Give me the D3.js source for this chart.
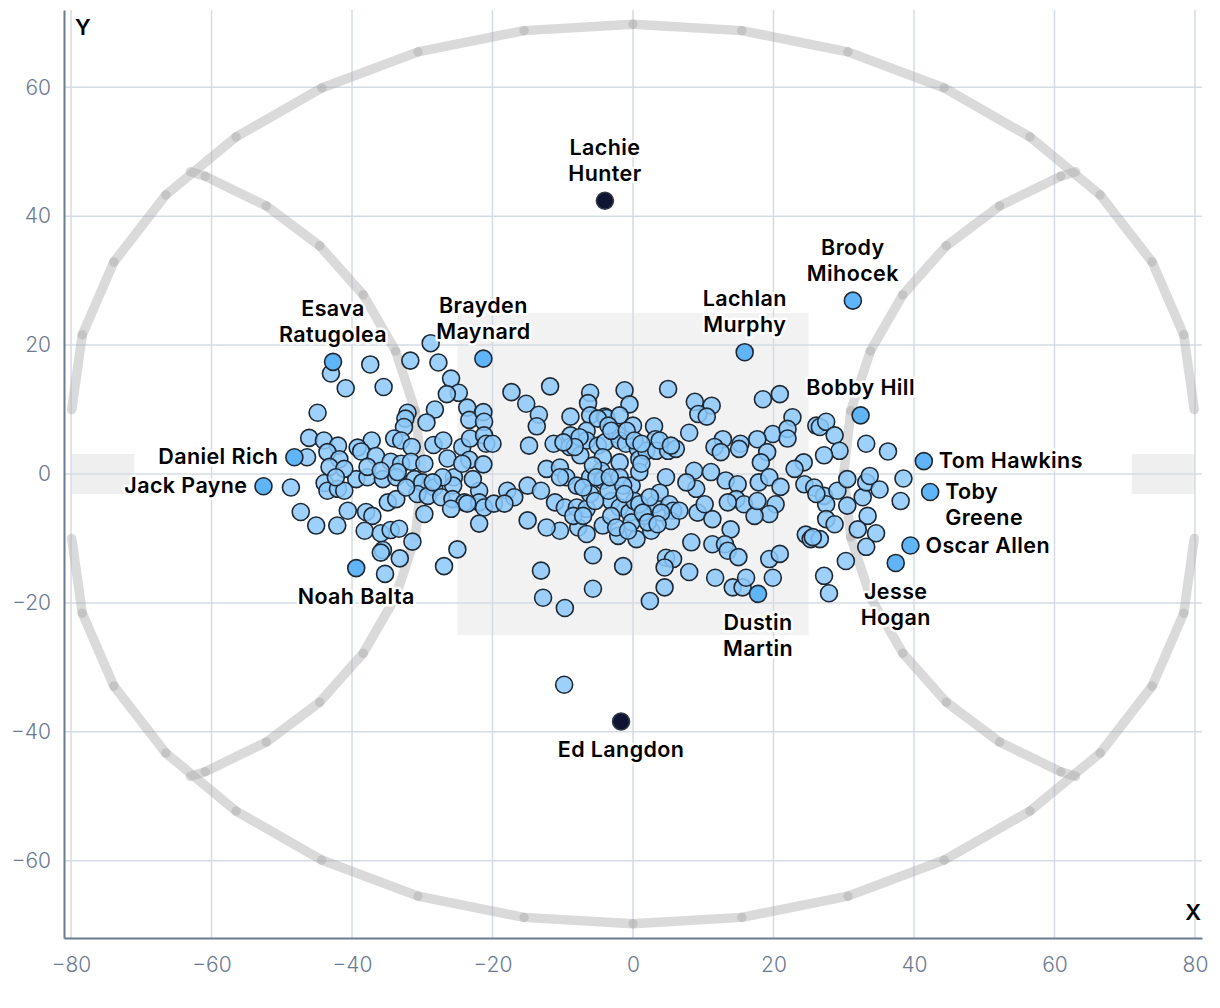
<!DOCTYPE html>
<html>
<head>
<meta charset="utf-8">
<script src="https://cdn.jsdelivr.net/npm/d3@7"></script>
<style>
  body { margin: 0; background: #fff; }
  svg { display: block; }
</style>
</head>
<body>
<div id="chart"></div>
<script>
// Axis ticks
const xTicks = [-80, -60, -40, -20, 0, 20, 40, 60, 80]
const yTicks = [-60, -40, -20, 0, 20, 40, 60]

// Field outline (boundary), split where the goals are
const ovalTop = [
  [-79.9, 10], [-78.4, 21.6], [-73.9, 32.9], [-66.5, 43.3], [-56.5, 52.3], [-44.3, 59.9],
  [-30.6, 65.5], [-15.5, 68.8], [0, 69.8], [15.5, 68.8], [30.6, 65.5], [44.3, 59.9],
  [56.5, 52.3], [66.5, 43.3], [73.9, 32.9], [78.4, 21.6], [79.9, 10]
]
const ovalBottom = [
  [-79.9, -10], [-78.4, -21.6], [-73.9, -32.9], [-66.5, -43.3], [-56.5, -52.3], [-44.3, -59.9],
  [-30.6, -65.5], [-15.5, -68.8], [0, -69.8], [15.5, -68.8], [30.6, -65.5], [44.3, -59.9],
  [56.5, -52.3], [66.5, -43.3], [73.9, -32.9], [78.4, -21.6], [79.9, -10]
]
const arcLeft = [
  [-63, 46.9], [-60.9, 46.2], [-52.2, 41.6], [-44.6, 35.4], [-38.4, 27.8], [-33.8, 19.1], [-31, 9.8],
  [-30, 0], [-31, -9.8], [-33.8, -19.1], [-38.4, -27.8], [-44.6, -35.4], [-52.2, -41.6], [-60.9, -46.2], [-63, -46.9]
]
const arcRight = [
  [63, 46.9], [60.9, 46.2], [52.2, 41.6], [44.6, 35.4], [38.4, 27.8], [33.8, 19.1], [31, 9.8],
  [30, 0], [31, -9.8], [33.8, -19.1], [38.4, -27.8], [44.6, -35.4], [52.2, -41.6], [60.9, -46.2], [63, -46.9]
]
const centreSquare = [[-25, 25], [25, -25]]
const goalSquares = [[[-80, 3.1], [-71, -3.1]], [[71, 3.1], [80, -3.1]]]

// All players (x, y)
const players = [
  [-28.8, 20.3], [-43.0, 15.6], [-37.4, 17.0], [-31.7, 17.6], [-27.7, 17.3], [-40.9, 13.3], [-35.5, 13.5],
  [-25.9, 14.8], [-24.8, 12.6], [-26.5, 12.4], [-17.3, 12.7], [-44.9, 9.5], [-32.1, 9.5], [-32.4, 8.6],
  [-28.2, 10.0], [-29.4, 8.0], [-23.6, 10.3], [-23.3, 8.4], [-21.3, 9.6], [-21.2, 8.1], [-15.2, 10.9],
  [-13.4, 9.2], [-13.7, 7.4], [-32.6, 7.3], [-34.0, 5.5], [-33.0, 5.2], [-37.2, 5.2], [-46.1, 5.6],
  [-44.0, 5.2], [-42.0, 4.4], [-43.5, 3.4], [-46.4, 2.6], [-39.2, 4.1], [-38.7, 3.5], [-31.5, 4.2],
  [-28.4, 4.5], [-27.0, 5.2], [-24.3, 4.2], [-23.2, 5.5], [-21.2, 6.0], [-20.9, 4.7], [-20.0, 4.7],
  [-14.8, 4.4], [-41.8, 2.3], [-36.6, 2.8], [-34.5, 1.9], [-33.0, 1.6], [-31.6, 1.9], [-29.7, 1.6],
  [-26.4, 2.4], [-23.3, 2.2], [-21.3, 1.5], [-39.4, -0.8], [-37.8, -0.5], [-35.6, -0.8], [-33.7, -0.5],
  [-31.1, -0.8], [-30.0, -1.3], [-28.3, -2.1], [-25.5, -0.5], [-25.6, -1.8], [-48.7, -2.1], [-43.9, -1.4],
  [-43.5, -2.6], [-42.0, -2.3], [-41.1, -2.6], [-30.7, -3.1], [-29.2, -3.4], [-27.3, -3.6], [-25.7, -3.9],
  [-24.0, -4.4], [-21.9, -2.6], [-21.9, -4.4], [-21.2, -5.2], [-19.8, -4.6], [-17.9, -2.6], [-16.9, -3.6],
  [-15.0, -1.8], [-13.1, -2.6], [-18.3, -4.6], [-34.9, -4.4], [-33.7, -3.9], [-47.3, -5.9], [-40.6, -5.7],
  [-38.0, -5.9], [-37.1, -6.5], [-25.9, -5.4], [-29.7, -6.2], [-21.9, -7.7], [-15.0, -7.2], [-45.1, -8.0],
  [-42.1, -8.0], [-38.2, -8.8], [-35.9, -9.2], [-34.5, -8.7], [-33.3, -8.5], [-31.4, -10.5], [-35.6, -11.8],
  [-35.9, -12.2], [-33.2, -13.1], [-25.0, -11.7], [-26.9, -14.3], [-35.3, -15.5], [-13.1, -15.0],
  [-43.2, 1.1], [-41.1, 0.8], [-42.3, -0.5], [-37.8, 1.1], [-35.9, 0.5], [-33.5, 0.3], [-32.3, -2.1],
  [-27.1, -0.5], [-28.5, -1.3], [-24.3, 1.6], [-22.8, -0.8], [-23.6, -4.6], [-9.8, -32.7],
  [-11.8, 13.6], [-6.1, 12.6], [-6.4, 11.0], [-1.2, 13.0], [-0.5, 10.8], [5.0, 13.2], [8.8, 11.2],
  [11.2, 10.6], [9.3, 9.3], [10.5, 8.9], [18.5, 11.6], [20.9, 12.4], [19.9, 6.2], [-8.9, 8.9], [-6.1, 9.1],
  [-4.0, 8.9], [-3.8, 8.7], [-1.9, 9.1], [0, 7.5], [3.0, 7.4], [3.2, 5.4], [8.0, 6.4], [12.8, 5.4],
  [11.6, 4.2], [12.5, 3.4], [15.3, 4.7], [15.1, 3.9], [17.7, 5.4], [19.1, 3.4], [18.2, 1.8], [-11.3, 4.7],
  [-8.9, 6.0], [-9.0, 4.2], [-7.5, 2.9], [-6.6, 6.7], [-6.6, 5.2], [-5.0, 4.4], [-4.0, 4.9], [-4.3, 2.6],
  [-2.3, 6.2], [-1.9, 5.2], [-1.0, 4.7], [0.7, 3.9], [0.9, 2.3], [1.9, 3.6], [3.3, 3.6], [5.0, 3.6],
  [6.1, 3.9], [-12.3, 0.8], [-10.4, 1.0], [-9.5, -0.5], [-8.0, -1.8], [-6.1, -0.5], [-4.5, 0.5],
  [-4.3, -1.0], [-1.9, 1.8], [-1.9, -0.5], [-0.2, -1.8], [0.9, 0.3], [1.2, 1.6], [4.7, -0.5], [8.7, 0.5],
  [9.0, -2.3], [11.1, 0.3], [13.2, -1.0], [14.9, -1.6], [14.7, -3.9], [15.8, -4.7], [17.9, -1.3],
  [19.4, -0.5], [21.0, -2.0], [20.3, -4.7], [19.4, -6.2], [17.3, -6.5], [-11.1, -4.4], [-9.7, -5.2],
  [-8.0, -5.2], [-6.6, -5.4], [-6.1, -3.1], [-7.8, -8.3], [-10.4, -8.8], [-12.3, -8.3], [-4.3, -8.0],
  [-2.1, -9.6], [-3.1, -4.2], [-1.9, -5.2], [-0.5, -6.0], [-0.2, -7.5], [0.5, -10.1], [0.2, -4.2],
  [1.7, -6.5], [2.6, -8.8], [3.1, -4.7], [3.8, -2.9], [5.2, -4.7], [5.7, -5.7], [5.4, -7.3], [9.2, -6.0],
  [11.3, -7.0], [10.2, -4.7], [13.9, -8.6], [13.5, -4.4], [17.7, -4.2], [8.3, -10.6], [11.3, -10.9],
  [13.1, -10.9], [13.5, -11.9], [15.0, -12.9], [4.7, -13.0], [5.7, -13.2], [4.5, -14.5], [8.0, -15.2],
  [11.7, -16.1], [14.2, -17.6], [15.6, -17.6], [16.1, -16.1], [19.4, -13.2], [20.9, -12.4], [19.9, -16.1],
  [-5.7, -12.6], [-1.4, -14.3], [-5.7, -17.8], [-12.8, -19.2], [-9.7, -20.8], [2.4, -19.7], [4.5, -17.6],
  [-8.5, -6.5], [-7.1, -6.5], [-5.4, -4.2], [-3.5, -2.6], [-3.1, -6.5], [-1.4, -1.8], [-1.2, -3.1],
  [0.9, -4.7], [1.4, -6.0], [2.4, -3.6], [4.0, -6.0], [6.6, -5.7], [-7.6, 5.7], [-8.3, 4.2], [-9.9, 4.9],
  [-5.0, 8.6], [-3.5, 7.5], [-3.1, 6.7], [-0.9, 6.7], [0.2, 5.2], [1.2, 4.7], [3.8, 5.2], [5.4, 4.4],
  [-5.7, 1.3], [-5.2, -0.5], [-3.3, -0.5], [-7.1, -2.1], [-10.4, -0.5], [7.6, -1.3], [-6.6, -9.3],
  [-2.4, -8.3], [-0.7, -8.8], [2.1, -7.5], [3.5, -7.8],
  [22.7, 8.8], [22.0, 7.0], [22.0, 5.5], [26.1, 7.5], [26.6, 7.3], [27.5, 8.1], [28.7, 6.0], [29.4, 3.6],
  [27.2, 2.9], [33.2, 4.7], [36.3, 3.5], [24.3, 1.8], [23.0, 0.8], [24.4, -1.6], [25.8, -2.1], [27.2, -3.4],
  [27.5, -4.7], [29.1, -2.6], [30.5, -0.8], [30.5, -4.9], [32.7, -3.6], [33.2, -1.3], [33.7, -0.3],
  [35.1, -2.4], [38.5, -0.7], [38.1, -4.2], [33.4, -6.5], [32.0, -8.6], [34.6, -9.2], [33.2, -11.3],
  [27.5, -7.0], [28.7, -7.8], [24.6, -9.4], [25.3, -10.1], [26.6, -10.1], [30.3, -13.5], [27.2, -15.8],
  [27.9, -18.5], [26.1, -3.1], [25.6, -9.8]
]

// Named players: name lines, x, y, label side, dark marker
const namedPlayers = [
  { lines: ['Lachie', 'Hunter'], x: -4.0, y: 42.4, pos: 'above', dark: true },
  { lines: ['Ed Langdon'], x: -1.7, y: -38.4, pos: 'below', dark: true },
  { lines: ['Brody', 'Mihocek'], x: 31.3, y: 26.9, pos: 'above' },
  { lines: ['Lachlan', 'Murphy'], x: 15.9, y: 18.9, pos: 'above' },
  { lines: ['Bobby Hill'], x: 32.4, y: 9.1, pos: 'above' },
  { lines: ['Tom Hawkins'], x: 41.4, y: 2.0, pos: 'right' },
  { lines: ['Toby', 'Greene'], x: 42.3, y: -2.8, pos: 'right' },
  { lines: ['Oscar Allen'], x: 39.5, y: -11.1, pos: 'right' },
  { lines: ['Jesse', 'Hogan'], x: 37.4, y: -13.8, pos: 'below' },
  { lines: ['Dustin', 'Martin'], x: 17.8, y: -18.6, pos: 'below' },
  { lines: ['Noah Balta'], x: -39.4, y: -14.6, pos: 'below' },
  { lines: ['Jack Payne'], x: -52.6, y: -1.9, pos: 'left' },
  { lines: ['Daniel Rich'], x: -48.2, y: 2.6, pos: 'left' },
  { lines: ['Esava', 'Ratugolea'], x: -42.7, y: 17.4, pos: 'above' },
  { lines: ['Brayden', 'Maynard'], x: -21.3, y: 17.9, pos: 'above' }
]

const width = 1220
const height = 1008
const font = 'Inter, "Noto Sans", sans-serif'
const axisColour = '#6b7b92'

const svg = d3.select('#chart').append('svg')
  .attr('width', width)
  .attr('height', height)

const x = d3.scaleLinear().domain([-81, 81]).range([64, 1202])
const y = d3.scaleLinear().domain([-72, 72]).range([938, 10])

// Field rectangles
const gField = svg.append('g')
gField.append('rect')
  .attr('x', x(centreSquare[0][0]))
  .attr('y', y(centreSquare[0][1]))
  .attr('width', x(centreSquare[1][0]) - x(centreSquare[0][0]))
  .attr('height', y(centreSquare[1][1]) - y(centreSquare[0][1]))
  .attr('fill', '#f2f2f2')
goalSquares.forEach(g => {
  gField.append('rect')
    .attr('x', x(g[0][0]))
    .attr('y', y(g[0][1]))
    .attr('width', x(g[1][0]) - x(g[0][0]))
    .attr('height', y(g[1][1]) - y(g[0][1]))
    .attr('fill', '#efefef')
})

// Gridlines
const gGrid = svg.append('g').attr('stroke', '#d5dbe4').attr('stroke-width', 1.5)
xTicks.forEach(t => {
  gGrid.append('line').attr('x1', x(t)).attr('x2', x(t)).attr('y1', y.range()[1]).attr('y2', y.range()[0])
})
yTicks.forEach(t => {
  gGrid.append('line').attr('y1', y(t)).attr('y2', y(t)).attr('x1', x.range()[0]).attr('x2', x.range()[1])
})

// Field lines - separate segments so the joins overlap into darker dots
const gLines = svg.append('g')
  .attr('stroke', '#a6a6a6')
  .attr('stroke-opacity', 0.42)
  .attr('stroke-width', 9.5)
  .attr('stroke-linecap', 'round')
;[ovalTop, ovalBottom, arcLeft, arcRight].forEach(line => {
  d3.pairs(line).forEach(([a, b]) => {
    gLines.append('line')
      .attr('x1', x(a[0])).attr('y1', y(a[1]))
      .attr('x2', x(b[0])).attr('y2', y(b[1]))
  })
})

// Axes
const gx = svg.append('g')
  .attr('transform', `translate(0,${y.range()[0]})`)
  .call(d3.axisBottom(x).tickValues(xTicks).tickSize(0).tickPadding(19))
const gy = svg.append('g')
  .attr('transform', `translate(${x.range()[0]},0)`)
  .call(d3.axisLeft(y).tickValues(yTicks).tickSize(0).tickPadding(13))
;[gx, gy].forEach(g => {
  g.select('.domain').attr('stroke', axisColour).attr('stroke-width', 2)
  g.selectAll('text')
    .attr('fill', axisColour)
    .style('font-family', font)
    .style('font-size', '21px')
    .style('font-weight', 300)
})

svg.append('text')
  .attr('x', 75).attr('y', 35)
  .text('Y')
  .style('font-family', font).style('font-size', '22px').style('font-weight', 600)
svg.append('text')
  .attr('x', 1201).attr('y', 920)
  .attr('text-anchor', 'end')
  .text('X')
  .style('font-family', font).style('font-size', '22px').style('font-weight', 600)

// Points
const r = 8.5
svg.append('g').selectAll('circle')
  .data(players)
  .join('circle')
  .attr('cx', d => x(d[0]))
  .attr('cy', d => y(d[1]))
  .attr('r', r)
  .attr('fill', '#8cc9fb')
  .attr('fill-opacity', 0.85)
  .attr('stroke', '#1e2833')
  .attr('stroke-width', 1.6)

svg.append('g').selectAll('circle')
  .data(namedPlayers)
  .join('circle')
  .attr('cx', d => x(d.x))
  .attr('cy', d => y(d.y))
  .attr('r', r)
  .attr('fill', d => d.dark ? '#0f1434' : '#60b4f8')
  .attr('stroke', d => d.dark ? '#333a45' : '#1e2833')
  .attr('stroke-width', 1.6)

// Labels
const lineH = 26
const gLabels = svg.append('g')
  .style('font-family', font)
  .style('font-size', '21.5px')
  .style('font-weight', 600)
  .style('letter-spacing', '0.4px')

namedPlayers.forEach(d => {
  const px = x(d.x)
  const py = y(d.y)
  const n = d.lines.length
  let tx = px
  let ty = py
  let anchor = 'middle'
  if (d.pos === 'above') {
    ty = py - 20 - (n - 1) * lineH
  } else if (d.pos === 'below') {
    ty = py + 36
  } else if (d.pos === 'right') {
    tx = px + 15
    ty = py + 7
    anchor = 'start'
  } else {
    tx = px - 16
    ty = py + 7
    anchor = 'end'
  }
  const t = gLabels.append('text')
    .attr('x', tx)
    .attr('y', ty)
    .attr('text-anchor', anchor)
    .attr('fill', '#000')
    .attr('stroke', '#fff')
    .attr('stroke-width', 5)
    .attr('stroke-linejoin', 'round')
    .attr('paint-order', 'stroke')
  d.lines.forEach((l, i) => {
    t.append('tspan').attr('x', tx).attr('dy', i === 0 ? 0 : lineH).text(l)
  })
})
</script>
</body>
</html>
